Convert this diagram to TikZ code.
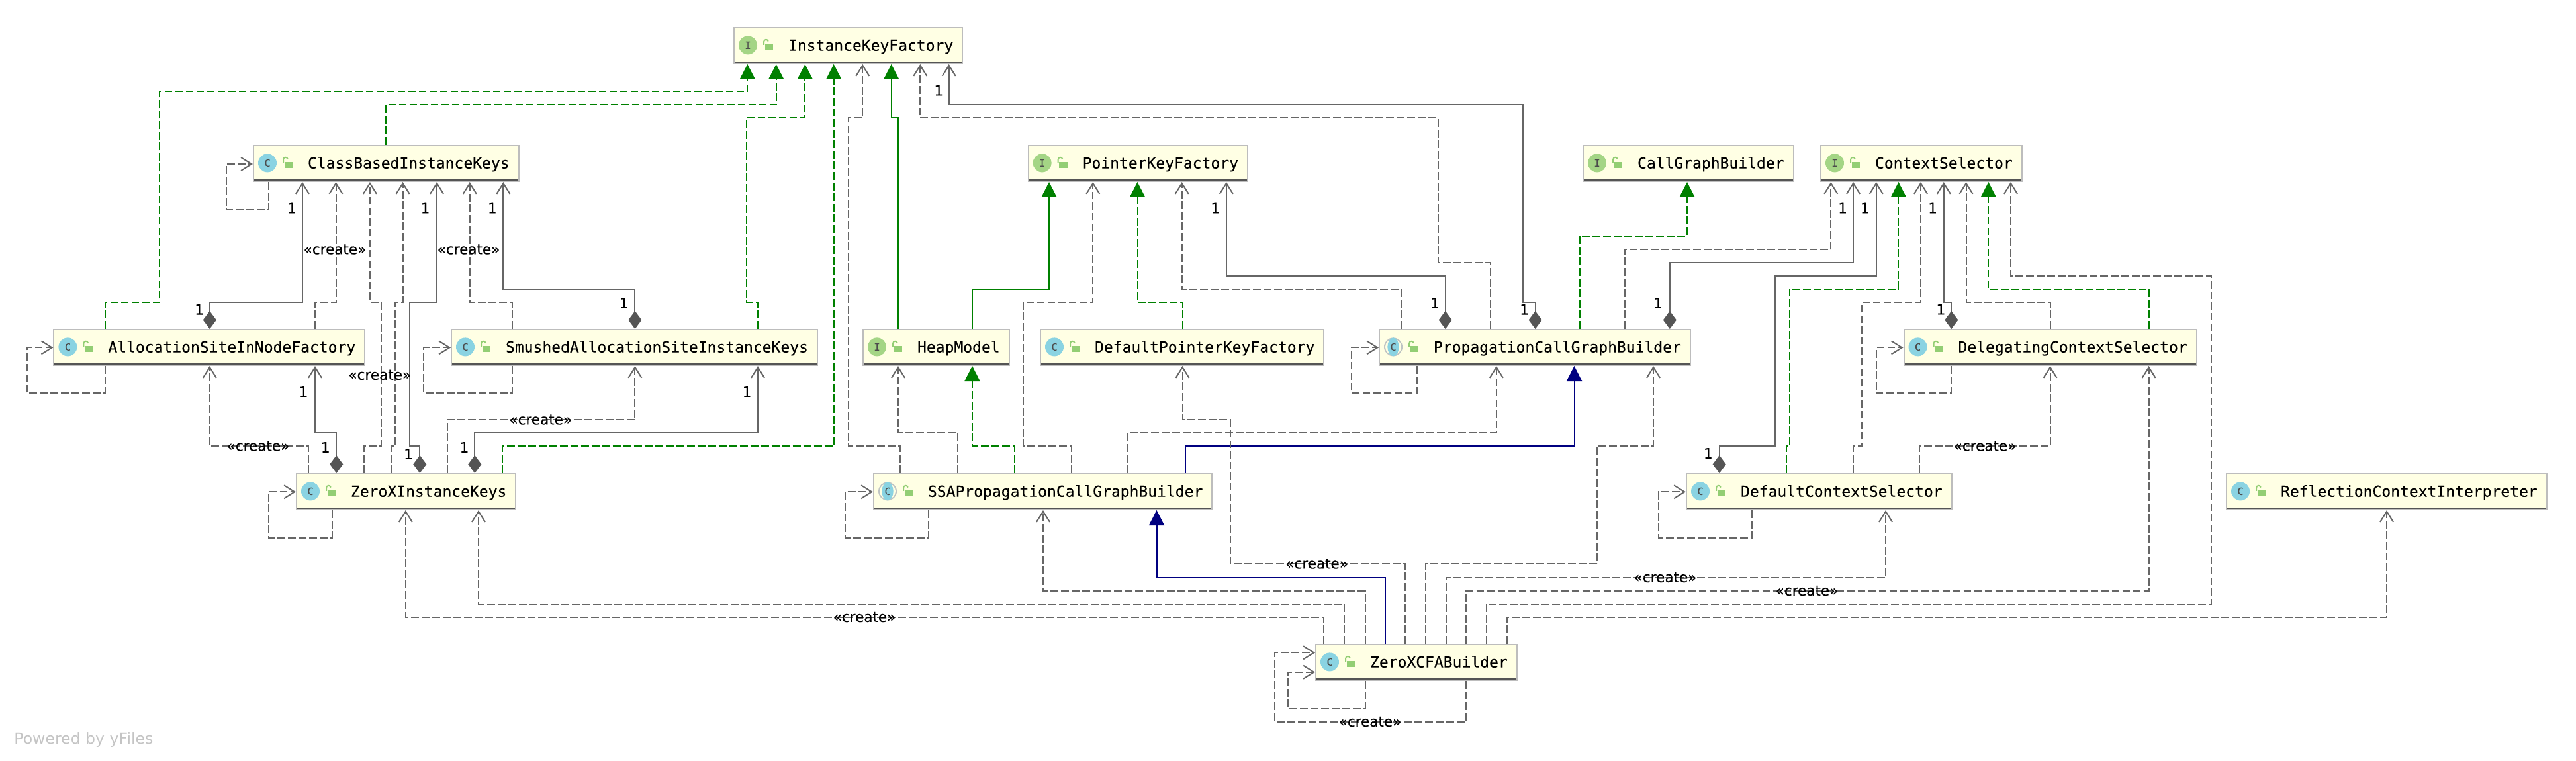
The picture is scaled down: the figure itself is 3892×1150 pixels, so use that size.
\documentclass[tikz,border=0pt]{standalone}
\usepackage{fontspec}
\setmainfont{DejaVu Sans}
\setmonofont[FakeBold=0.12]{DejaVu Sans Mono}
\newfontfamily\edgefont[FakeBold=0.2]{DejaVu Sans}
\usetikzlibrary{arrows.meta}

\definecolor{boxfill}{HTML}{FFFFE4}
\definecolor{boxedge}{HTML}{BDBDBD}
\definecolor{headbar}{HTML}{555555}
\definecolor{linegray}{HTML}{666666}
\definecolor{diamondgray}{HTML}{555555}
\definecolor{implgreen}{HTML}{008000}
\definecolor{extnavy}{HTML}{000080}
\definecolor{ifacegreen}{HTML}{A4D585}
\definecolor{classblue}{HTML}{8AD3E2}
\definecolor{abstractgray}{HTML}{BFC4C4}
\definecolor{lockgreen}{HTML}{93CE74}
\definecolor{footgray}{HTML}{C4C4C4}

\tikzset{
    classbox/.style={draw=boxedge, fill=boxfill, line width=1pt, inner xsep=0pt, inner ysep=0pt,
        anchor=west, minimum height=27pt, text height=9pt, text depth=1.3pt,
        font=\fontsize{11.5}{14}\ttfamily,
        execute at begin node={\hspace*{41pt}}, execute at end node={\hspace*{7pt}}},
    iconletter/.style={inner sep=0pt, text=black!70, font=\fontsize{7.5}{9}\ttfamily},
    edgelabel/.style={inner sep=0pt, font=\fontsize{10.75}{13}\edgefont},
    barb/.tip={Straight Barb[length=8pt,width=10pt,line width=1pt]},
    solidhead/.tip={Triangle[length=11.5pt,width=11.5pt]},
    dep/.style={draw=linegray, line width=1pt, dash pattern=on 5.9pt off 2.1pt, -{barb}},
    assoc/.style={draw=linegray, line width=1pt,
        {Diamond[length=13.5pt,width=10pt,fill=diamondgray,color=diamondgray]}-{barb}},
    impl/.style={draw=implgreen, line width=1pt, dash pattern=on 5.9pt off 2.1pt,
        -{solidhead[fill=implgreen,color=implgreen]}},
    ext/.style={draw=implgreen, line width=1pt, -{solidhead[fill=implgreen,color=implgreen]}},
    extblue/.style={draw=extnavy, line width=1pt, -{solidhead[fill=extnavy,color=extnavy]}},
}

\begin{document}
\begin{tikzpicture}[x=0.5pt,y=-0.5pt]

    \useasboundingbox (0,0) rectangle (3892,1150);

    \node[classbox] (ikf) at (1108,69) {InstanceKeyFactory};
    \node[classbox] (cbik) at (382,247) {ClassBasedInstanceKeys};
    \node[classbox] (pkf) at (1552.6,247) {PointerKeyFactory};
    \node[classbox] (cgb) at (2391,247) {CallGraphBuilder};
    \node[classbox] (cs) at (2750,247) {ContextSelector};
    \node[classbox] (afac) at (80.4,525) {AllocationSiteInNodeFactory};
    \node[classbox] (smush) at (681,525) {SmushedAllocationSiteInstanceKeys};
    \node[classbox] (heap) at (1303,525) {HeapModel};
    \node[classbox] (dpkf) at (1571,525) {DefaultPointerKeyFactory};
    \node[classbox] (pcgb) at (2083,525) {PropagationCallGraphBuilder};
    \node[classbox] (dlg) at (2875.5,525) {DelegatingContextSelector};
    \node[classbox] (zik) at (447,743) {ZeroXInstanceKeys};
    \node[classbox] (ssa) at (1319,743) {SSAPropagationCallGraphBuilder};
    \node[classbox] (dcs) at (2547,743) {DefaultContextSelector};
    \node[classbox] (rci) at (3363,743) {ReflectionContextInterpreter};
    \node[classbox] (cfa) at (1987,1001) {ZeroXCFABuilder};

    \foreach \n in {ikf,cbik,pkf,cgb,cs,afac,smush,heap,dpkf,pcgb,dlg,zik,ssa,dcs,rci,cfa}
        \draw[headbar, line width=1.25pt] ([xshift=1pt,yshift=1.4pt]\n.south west) -- ([xshift=-1pt,yshift=1.4pt]\n.south east);

    \foreach \n/\c in {ikf/ifacegreen,pkf/ifacegreen,cgb/ifacegreen,cs/ifacegreen,heap/ifacegreen,
        cbik/classblue,afac/classblue,smush/classblue,dpkf/classblue,dlg/classblue,
        zik/classblue,dcs/classblue,rci/classblue,cfa/classblue}
        \fill[\c] ([xshift=11pt,yshift=0.3pt]\n.west) circle (7pt);

    \foreach \n in {pcgb,ssa} {
        \fill[abstractgray] ([xshift=11pt,yshift=0.3pt]\n.west) circle (7pt);
        \fill[boxfill] ([xshift=11pt,yshift=0.3pt]\n.west) circle (6pt);
        \fill[classblue] ([xshift=11pt,yshift=0.3pt]\n.west) ellipse (4.3pt and 7pt);
    }

    \foreach \n/\k in {ikf/I,pkf/I,cgb/I,cs/I,heap/I,cbik/C,afac/C,smush/C,dpkf/C,pcgb/C,dlg/C,zik/C,ssa/C,dcs/C,rci/C,cfa/C} {
        \node[iconletter] (letter\n) at ([xshift=11pt,yshift=0.3pt]\n.west) {\k};
        \fill[lockgreen] ([xshift=23.9pt,yshift=1.15pt]\n.west) rectangle ([xshift=30.2pt,yshift=-3.35pt]\n.west);
        \draw[lockgreen, line width=1pt] ([xshift=23pt,yshift=0.6pt]\n.west) -- ++(0pt,2.3pt) arc[start angle=180,end angle=10,radius=1.7pt];
    }

    \draw[impl] (afac.north -| 159,0) |- (241.3,456.5) |- (1129.3,138.5) -- (ikf.south -| 1129.3,0);
    \draw[impl] (cbik.north -| 583,0) |- (1172.7,158.5) -- (ikf.south -| 1172.7,0);
    \draw[impl] (smush.north -| 1145,0) |- (1128,456.5) |- (1216.3,178.5) -- (ikf.south -| 1216.3,0);
    \draw[impl] (zik.north -| 758.7,0) |- (1259.7,674) -- (ikf.south -| 1259.7,0);
    \draw[dep] (ssa.north -| 1360,0) |- (1281.5,674) |- (1303.3,178.5) -- (ikf.south -| 1303.3,0);
    \draw[ext] (heap.north -| 1357,0) |- (1346.7,178.5) -- (ikf.south -| 1346.7,0);
    \draw[dep] (pcgb.north -| 2251.6,0) |- (2173,396.5) |- (1390.3,178.5) -- (ikf.south -| 1390.3,0);
    \draw[assoc] (pcgb.north -| 2319.6,0) |- (2300.6,456.5) |- (1433.7,158.5) -- (ikf.south -| 1433.7,0);

    \draw[ext] (heap.north -| 1469,0) |- (1585,436.5) -- (pkf.south -| 1585,0);
    \draw[dep] (ssa.north -| 1619,0) |- (1546,674) |- (1651.3,456.5) -- (pkf.south -| 1651.3,0);
    \draw[impl] (dpkf.north -| 1786.5,0) |- (1718.5,456.5) -- (pkf.south -| 1718.5,0);
    \draw[dep] (pcgb.north -| 2116.5,0) |- (1785.7,436.5) -- (pkf.south -| 1785.7,0);
    \draw[assoc] (pcgb.north -| 2183.7,0) |- (1852.8,416.5) -- (pkf.south -| 1852.8,0);

    \draw[impl] (pcgb.north -| 2386.8,0) |- (2549,356.5) -- (cgb.south -| 2549,0);

    \draw[dep] (pcgb.north -| 2454.8,0) |- (2766.3,376.5) -- (cs.south -| 2766.3,0);
    \draw[assoc] (pcgb.north -| 2522.8,0) |- (2800,396.5) -- (cs.south -| 2800,0);
    \draw[assoc] (dcs.north -| 2597.7,0) |- (2682,674) |- (2834.7,416.5) -- (cs.south -| 2834.7,0);
    \draw[impl] (dcs.north -| 2698.9,0) |- (2704,674) |- (2868.4,436.5) -- (cs.south -| 2868.4,0);
    \draw[dep] (dcs.north -| 2800,0) |- (2813.4,674) |- (2902,456.5) -- (cs.south -| 2902,0);
    \draw[assoc] (dlg.north -| 2948.3,0) |- (2936.8,456.5) -- (cs.south -| 2936.8,0);
    \draw[dep] (dlg.north -| 3097.5,0) |- (2970.5,456.5) -- (cs.south -| 2970.5,0);
    \draw[impl] (dlg.north -| 3246.6,0) |- (3004.3,436.5) -- (cs.south -| 3004.3,0);
    \draw[dep] (cfa.north -| 2245.9,0) |- (3341.3,912.5) |- (3038,416.5) -- (cs.south -| 3038,0);

    \draw[assoc] (afac.north -| 316.8,0) |- (456.9,456.5) -- (cbik.south -| 456.9,0);
    \draw[dep] (afac.north -| 476,0) |- (507.5,456.5) -- (cbik.south -| 507.5,0);
    \draw[dep] (zik.north -| 549.8,0) |- (575.5,674) |- (558.9,456.5) -- (cbik.south -| 558.9,0);
    \draw[dep] (zik.north -| 592,0) |- (597,674) |- (608.6,456.5) -- (cbik.south -| 608.6,0);
    \draw[assoc] (zik.north -| 634.3,0) |- (619.4,674) |- (660,456.5) -- (cbik.south -| 660,0);
    \draw[dep] (smush.north -| 773.6,0) |- (709.8,456.5) -- (cbik.south -| 709.8,0);
    \draw[assoc] (smush.north -| 959.4,0) |- (760.4,436.5) -- (cbik.south -| 760.4,0);

    \draw[dep] (zik.north -| 466,0) |- (316.8,674) -- (afac.south -| 316.8,0);
    \draw[assoc] (zik.north -| 508.3,0) |- (476,654) -- (afac.south -| 476,0);
    \draw[dep] (zik.north -| 675.8,0) |- (959.4,634) -- (smush.south -| 959.4,0);
    \draw[assoc] (zik.north -| 717.3,0) |- (1145,654) -- (smush.south -| 1145,0);

    \draw[dep] (ssa.north -| 1446.5,0) |- (1357,654) -- (heap.south -| 1357,0);
    \draw[impl] (ssa.north -| 1532.8,0) |- (1469,674) -- (heap.south -| 1469,0);
    \draw[dep] (ssa.north -| 1704.4,0) |- (2260.8,654) -- (pcgb.south -| 2260.8,0);
    \draw[extblue] (ssa.north -| 1790.6,0) |- (2378.5,674) -- (pcgb.south -| 2378.5,0);
    \draw[dep] (dcs.north -| 2900.4,0) |- (3097.5,674) -- (dlg.south -| 3097.5,0);

    \draw[dep] (cfa.north -| 2000.4,0) |- (612.8,932.5) -- (zik.south -| 612.8,0);
    \draw[dep] (cfa.north -| 2031,0) |- (723,912.5) -- (zik.south -| 723,0);
    \draw[dep] (cfa.north -| 2062.6,0) |- (1576,892.5) -- (ssa.south -| 1576,0);
    \draw[extblue] (cfa.north -| 2092.5,0) |- (1747.5,872.5) -- (ssa.south -| 1747.5,0);
    \draw[dep] (cfa.north -| 2123,0) |- (1858.6,852) |- (1786.5,634) -- (dpkf.south -| 1786.5,0);
    \draw[dep] (cfa.north -| 2153.8,0) |- (2412.5,852) |- (2498,674) -- (pcgb.south -| 2498,0);
    \draw[dep] (cfa.north -| 2184.5,0) |- (2849,872.5) -- (dcs.south -| 2849,0);
    \draw[dep] (cfa.north -| 2215,0) |- (3246.6,892.5) -- (dlg.south -| 3246.6,0);
    \draw[dep] (cfa.north -| 2276.5,0) |- (3606,932.5) -- (rci.south -| 3606,0);

    \draw[dep] (cbik.south -| 406.3,0) |- (341.6,316.5) |- (cbik.west |- 0,248);
    \draw[dep] (afac.south -| 159,0) |- (40.6,594) |- (afac.west |- 0,525.4);
    \draw[dep] (smush.south -| 773.6,0) |- (640,594) |- (smush.west |- 0,525.4);
    \draw[dep] (zik.south -| 501.7,0) |- (405.5,812.5) |- (zik.west |- 0,743.3);
    \draw[dep] (pcgb.south -| 2141.4,0) |- (2042,594) |- (pcgb.west |- 0,525.4);
    \draw[dep] (dlg.south -| 2948.3,0) |- (2834.7,594) |- (dlg.west |- 0,525.4);
    \draw[dep] (dcs.south -| 2647,0) |- (2506,812.5) |- (dcs.west |- 0,743.3);
    \draw[dep] (ssa.south -| 1403.4,0) |- (1277.4,812.5) |- (ssa.west |- 0,743.3);
    \draw[dep] (cfa.south -| 2062.6,0) |- (1945.7,1070.5) |- (cfa.west |- 0,1015.7);
    \draw[dep] (cfa.south -| 2215,0) |- (1925.8,1090.5) |- (cfa.west |- 0,986.3);

    \foreach \i/\x/\y in {a/506/377,b/708/377,c/573.8/566.4,d/390/674,e/816.8/634,f/1306/932.5,
        g/1989.6/852,h/2516/872.5,i/2730/892.5,j/2999/674,k/2070/1090.5}
        \node[edgelabel] (create\i) at (\x,\y) {«create»};

    \foreach \i/\x/\y in {a/441/314.6,b/642.6/314.6,c/743.8/314.6,d/301/467.7,e/942.8/458,
        f/458.5/592,g/491.7/676,h/617/686,i/701.5/676,j/1128.5/592,k/1418.3/136.6,l/1836.2/314.6,
        m/2168/458,n/2303/467.7,o/2505/458,p/2784/314.6,q/2817.8/314.6,r/2920/314.6,s/2932.4/467.6,t/2580.8/685}
        \node[edgelabel] (one\i) at (\x,\y) {1};

    \node[anchor=west, inner sep=0pt, text=footgray, font=\fontsize{11.8}{14}\selectfont] (poweredby) at (21,1118) {Powered by yFiles};

\end{tikzpicture}
\end{document}
